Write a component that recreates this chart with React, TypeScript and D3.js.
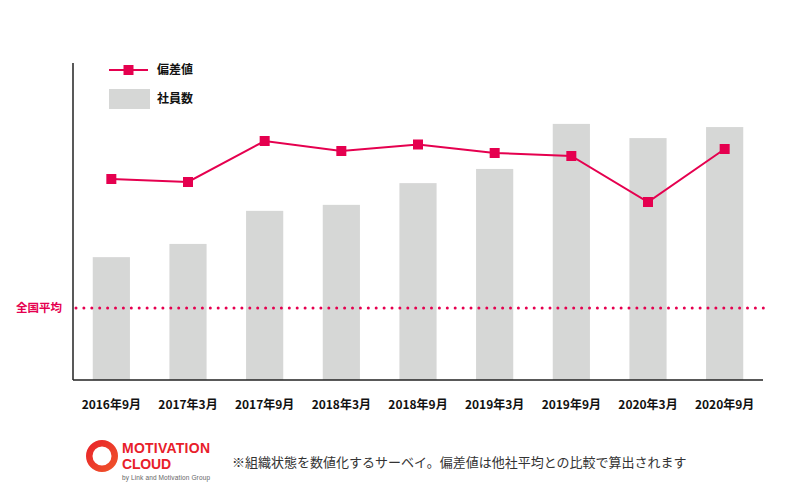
import React from "react";
import * as d3 from "d3";

const categories = ["2016年9月", "2017年3月", "2017年9月", "2018年3月", "2018年9月", "2019年3月", "2019年9月", "2020年3月", "2020年9月"];
const employees = [39, 43.2, 53.7, 55.6, 62.5, 67, 81.3, 76.8, 80.3];
const deviation = [62.9, 62.6, 66.7, 65.7, 66.35, 65.5, 65.2, 60.6, 65.9];
const nationalAverage = 50;
const legendLabels = ["偏差値", "社員数"];
const footnote = "※組織状態を数値化するサーベイ。偏差値は他社平均との比較で算出されます";

const W = 800, H = 498;
const left = 73, right = 763, top = 63, bottom = 380;
const PINK = "#e5004f";
const GRAY = "#d6d7d6";
const FONT = "'Noto Sans CJK JP', 'Noto Sans', sans-serif";

export default function App() {
  const x = d3.scaleBand<string>().domain(categories).range([left, right]).paddingInner(0.515).paddingOuter(0.2575);
  const yBar = d3.scaleLinear().domain([0, 100]).range([bottom, 65]);
  const yDev = d3.scaleLinear().domain([42.8, 74.3]).range([bottom, 65]);
  const line = d3.line<number>().x((_, i) => (x(categories[i]) as number) + x.bandwidth() / 2).y((d) => yDev(d));
  const avgY = yDev(nationalAverage);
  const dots = d3.range(left + 3, right + 1, 7.9);
  const ring = d3.arc();

  return (
    <svg width={W} height={H} style={{ position: "absolute", left: 0, top: 0, background: "#fff" }} fontFamily={FONT}>
      <defs>
        <linearGradient id="lg" x1="0" y1="0" x2="1" y2="1">
          <stop offset="0" stopColor="#e8202a" />
          <stop offset="1" stopColor="#f0572a" />
        </linearGradient>
      </defs>
      {employees.map((v, i) => (
        <rect key={i} x={x(categories[i])} y={yBar(v)} width={x.bandwidth()} height={bottom - yBar(v)} fill={GRAY} />
      ))}
      {dots.map((d, i) => (
        <circle key={i} cx={d} cy={avgY} r={1.5} fill={PINK} />
      ))}
      <text x={62} y={avgY} dy="0.35em" textAnchor="end" fontSize={11.5} fontWeight={700} fill={PINK}>全国平均</text>
      <path d={line(deviation) || ""} fill="none" stroke={PINK} strokeWidth={2} />
      {deviation.map((v, i) => (
        <rect key={i} x={(x(categories[i]) as number) + x.bandwidth() / 2 - 5} y={yDev(v) - 5} width={10} height={10} fill={PINK} />
      ))}
      <line x1={left} x2={left} y1={top} y2={bottom} stroke="#222" strokeWidth={1.5} />
      <line x1={left} x2={right} y1={bottom} y2={bottom} stroke="#222" strokeWidth={1.5} />
      {categories.map((c, i) => (
        <text key={c} x={(x(c) as number) + x.bandwidth() / 2} y={405} dy="0.35em" textAnchor="middle" fontSize={12} fontWeight={700} fill="#111">{c}</text>
      ))}
      {/* legend */}
      <line x1={109} x2={148} y1={70} y2={70} stroke={PINK} strokeWidth={2} />
      <rect x={123.5} y={65} width={10} height={10} fill={PINK} />
      <text x={157} y={70} dy="0.35em" fontSize={12} fontWeight={700} fill="#111">{legendLabels[0]}</text>
      <rect x={109} y={89} width={41} height={20} fill={GRAY} />
      <text x={157} y={99} dy="0.35em" fontSize={12} fontWeight={700} fill="#111">{legendLabels[1]}</text>
      {/* logo */}
      <g transform="translate(102,456)">
        <path d={ring({ innerRadius: 9.5, outerRadius: 16, startAngle: 0, endAngle: 2 * Math.PI }) || ""} fill="url(#lg)" />
      </g>
      <text x={122} y={453} fontSize={14} fontWeight={700} fill="#e8202a" textLength={88} lengthAdjust="spacing" fontFamily="'Liberation Sans', sans-serif">MOTIVATION</text>
      <text x={122} y={468.5} fontSize={14} fontWeight={700} fill="#e8202a" textLength={49} lengthAdjust="spacing" fontFamily="'Liberation Sans', sans-serif">CLOUD</text>
      <text x={122} y={480} fontSize={6.5} fill="#666" textLength={88} lengthAdjust="spacing" fontFamily="'Liberation Sans', sans-serif">by  Link and Motivation Group</text>
      <text x={232} y={462} dy="0.35em" fontSize={13} fill="#333">{footnote}</text>
    </svg>
  );
}
